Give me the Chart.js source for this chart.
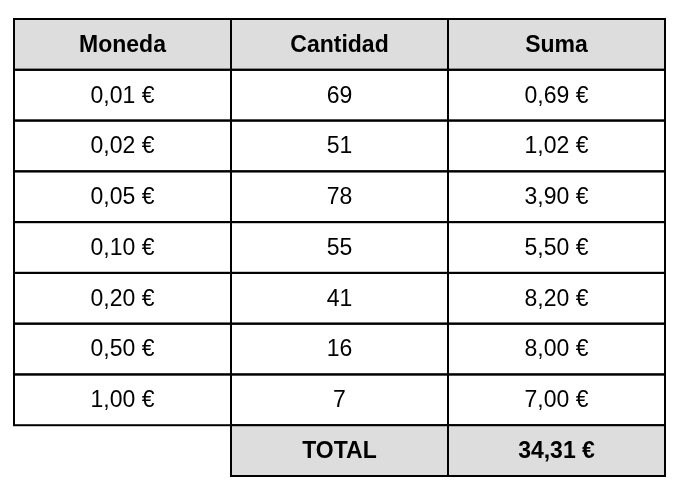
<!DOCTYPE html>
<html><head><meta charset="utf-8">
<script src="https://cdn.jsdelivr.net/npm/chart.js@4/dist/chart.umd.min.js"></script>
<style>html,body{margin:0;padding:0;background:#fff}</style>
</head><body>
<canvas id="c" width="684" height="496"></canvas>
<script>
const headers = ["Moneda", "Cantidad", "Suma"];
const monedas = ["0,01 €", "0,02 €", "0,05 €", "0,10 €", "0,20 €", "0,50 €", "1,00 €"];
const cantidades = [69, 51, 78, 55, 41, 16, 7];
const sumas = ["0,69 €", "1,02 €", "3,90 €", "5,50 €", "8,20 €", "8,00 €", "7,00 €"];
const totalLabel = "TOTAL";
const totalValue = "34,31 €";

const tablePlugin = {
  id: 'table',
  afterDraw(chart) {
    const ctx = chart.ctx, xs = chart.scales.x, ys = chart.scales.y;
    const rows = [headers];
    monedas.forEach((m, i) => rows.push([m, String(cantidades[i]), sumas[i]]));
    rows.push([null, totalLabel, totalValue]);
    ctx.save();
    ctx.textAlign = 'center'; ctx.textBaseline = 'middle';
    rows.forEach((row, r) => {
      const y0 = ys.getPixelForValue(r), y1 = ys.getPixelForValue(r + 1);
      const bold = r === 0 || r === rows.length - 1;
      row.forEach((txt, c) => {
        if (txt === null) return;
        const x0 = xs.getPixelForValue(c), x1 = xs.getPixelForValue(c + 1);
        if (bold) { ctx.fillStyle = '#dddddd'; ctx.fillRect(x0, y0, x1 - x0, y1 - y0); }
        ctx.strokeStyle = '#000'; ctx.lineWidth = 2;
        ctx.strokeRect(x0, y0, x1 - x0, y1 - y0);
        ctx.fillStyle = '#000';
        ctx.font = (bold ? 'bold ' : '') + '23px "Liberation Sans", Arial, sans-serif';
        ctx.fillText(txt, (x0 + x1) / 2, (y0 + y1) / 2 + 1);
      });
    });
    ctx.restore();
  }
};

new Chart(document.getElementById('c'), {
  type: 'scatter',
  data: { datasets: [{ data: [] }] },
  options: {
    responsive: false, animation: false, devicePixelRatio: 1,
    layout: { padding: { left: 14, right: 19, top: 19, bottom: 20 } },
    plugins: { legend: { display: false }, tooltip: { enabled: false } },
    scales: {
      x: { type: 'linear', min: 0, max: headers.length, display: false },
      y: { type: 'linear', min: 0, max: monedas.length + 2, reverse: true, display: false }
    }
  },
  plugins: [tablePlugin]
});
</script>
</body></html>
